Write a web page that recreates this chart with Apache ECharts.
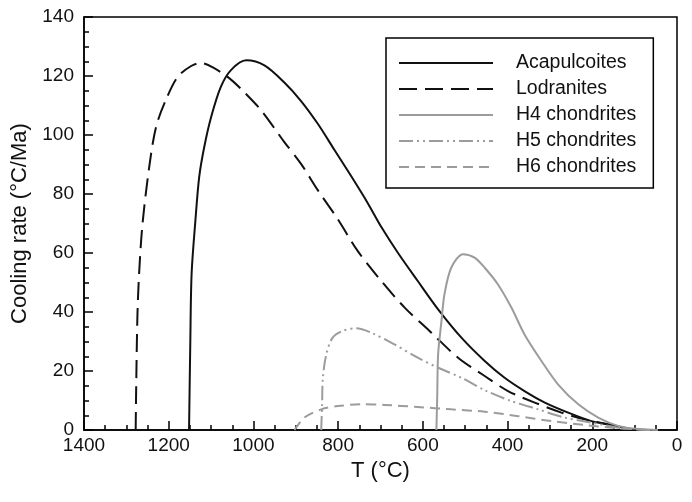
<!DOCTYPE html>
<html>
<head>
<meta charset="utf-8">
<script src="https://cdn.jsdelivr.net/npm/echarts@6/dist/echarts.min.js"></script>
<style>
  html, body { margin: 0; padding: 0; background: #fff; }
  #chart { width: 692px; height: 502px; }
</style>
</head>
<body>
<div id="chart"></div>
<script>
// data: temperature (°C) and cooling rate (°C/Ma)
const acapT = [1152, 1149, 1146, 1137, 1128, 1116, 1100, 1077, 1053, 1017, 974, 927, 888, 848, 809, 769, 730, 698, 659, 612, 564, 509, 454, 407, 360, 312, 257, 202, 155, 110, 90]
const acapR = [0, 30, 52.8, 71, 85.8, 96, 106, 116.3, 122, 125.3, 123.6, 117.8, 111.6, 103.8, 95, 86, 76.9, 68.8, 60.1, 50.5, 40.9, 31.3, 23.4, 17.7, 13.2, 9.3, 5.9, 3.0, 1.7, 0.3, 0]

const lodT = [1278, 1277, 1274, 1270, 1262, 1246, 1230, 1207, 1179, 1148, 1124, 1097, 1061, 1030, 982, 927, 888, 848, 801, 754, 698, 643, 580, 517, 454, 399, 336, 273, 218, 155, 110, 100]
const lodR = [0, 12.4, 38.1, 52.8, 69.7, 89.2, 102.7, 111.8, 119.7, 123.3, 124.4, 123, 119.7, 115.7, 108.4, 97.6, 90.3, 81.3, 71.5, 60.7, 50.5, 41.5, 33, 24.5, 18.3, 13.2, 9.3, 5.9, 3.6, 1.7, 0.3, 0]

const h4T = [568, 566, 564, 556, 549, 533, 505, 478, 454, 423, 391, 360, 320, 281, 233, 186, 139, 90, 45]
const h4R = [0, 12, 25.6, 37, 46, 55, 59.6, 58.4, 55, 49.4, 41.5, 32.4, 23.4, 15.5, 8.7, 4.2, 1.4, 0.3, 0]

const h5T = [840, 838, 836, 828, 813, 789, 757, 722, 667, 612, 564, 509, 454, 391, 328, 265, 202, 139, 90, 60]
const h5R = [0, 8, 17.7, 25.6, 31.3, 33.6, 34.5, 33, 29, 24.5, 21.1, 17.7, 13.5, 9.8, 7.0, 4.2, 2.5, 0.8, 0.2, 0]

const h6T = [903, 880, 840, 801, 746, 691, 612, 533, 454, 375, 296, 218, 139, 90, 55]
const h6R = [0, 4.2, 7.0, 8.1, 8.7, 8.5, 7.8, 7.0, 6.2, 4.7, 3.0, 1.7, 0.6, 0.2, 0]

const seriesNames = ['Acapulcoites', 'Lodranites', 'H4 chondrites', 'H5 chondrites', 'H6 chondrites']
const xTicks = [0, 1400, 200]   // min, max, interval
const yTicks = [0, 140, 20]

function pairs(xs, ys) {
  return xs.map((x, i) => [x, ys[i]])
}

const chart = echarts.init(document.getElementById('chart'))
const font = 'Liberation Sans, Arial, sans-serif'
const grey = '#9c9c9c'

function line(name, data, color, type) {
  return {
    name: name,
    type: 'line',
    data: data,
    symbol: 'none',
    smooth: 0.3,
    color: color,
    lineStyle: { color: color, width: 2, type: type },
    animation: false
  }
}

chart.setOption({
  backgroundColor: '#fff',
  grid: {
    left: 84, right: 15, top: 17, bottom: 72,
    show: true, borderColor: '#000', borderWidth: 1.5
  },
  legend: {
    orient: 'vertical',
    left: 386,
    top: 38,
    padding: [15, 17, 11, 12],
    itemWidth: 94,
    itemHeight: 14,
    itemGap: 6,
    itemStyle: { opacity: 0 },
    borderColor: '#000',
    borderWidth: 1.5,
    backgroundColor: '#fff',
    data: seriesNames,
    textStyle: { fontFamily: font, fontSize: 19.5, color: '#111', padding: [0, 0, 0, 18] }
  },
  xAxis: {
    type: 'value',
    inverse: true,
    min: xTicks[0], max: xTicks[1], interval: xTicks[2],
    name: 'T (°C)',
    nameLocation: 'middle',
    nameGap: 23,
    nameTextStyle: { fontFamily: font, fontSize: 22, color: '#111' },
    axisLine: { onZero: false, lineStyle: { color: '#000', width: 1.5 } },
    axisTick: { inside: true, length: 9, lineStyle: { color: '#000', width: 1.5 } },
    minorTick: { show: true, splitNumber: 4, length: 5, lineStyle: { color: '#000', width: 1.5 } },
    splitLine: { show: false },
    axisLabel: { fontFamily: font, fontSize: 19, color: '#111', margin: 6, formatter: v => String(v) }
  },
  yAxis: {
    type: 'value',
    min: yTicks[0], max: yTicks[1], interval: yTicks[2],
    name: 'Cooling rate (°C/Ma)',
    nameLocation: 'middle',
    nameGap: 47,
    nameTextStyle: { fontFamily: font, fontSize: 22, color: '#111' },
    axisLine: { show: true, onZero: false, lineStyle: { color: '#000', width: 1.5 } },
    axisTick: { inside: true, length: 9, lineStyle: { color: '#000', width: 1.5 } },
    minorTick: { show: true, splitNumber: 4, length: 5, lineStyle: { color: '#000', width: 1.5 } },
    splitLine: { show: false },
    axisLabel: { fontFamily: font, fontSize: 19, color: '#111', margin: 10 }
  },
  series: [
    line(seriesNames[0], pairs(acapT, acapR), '#111', 'solid'),
    line(seriesNames[1], pairs(lodT, lodR), '#111', [18, 8]),
    line(seriesNames[2], pairs(h4T, h4R), grey, 'solid'),
    line(seriesNames[3], pairs(h5T, h5R), grey, [14, 4, 2, 4, 2, 4]),
    line(seriesNames[4], pairs(h6T, h6R), grey, [10, 6])
  ]
})
</script>
</body>
</html>
